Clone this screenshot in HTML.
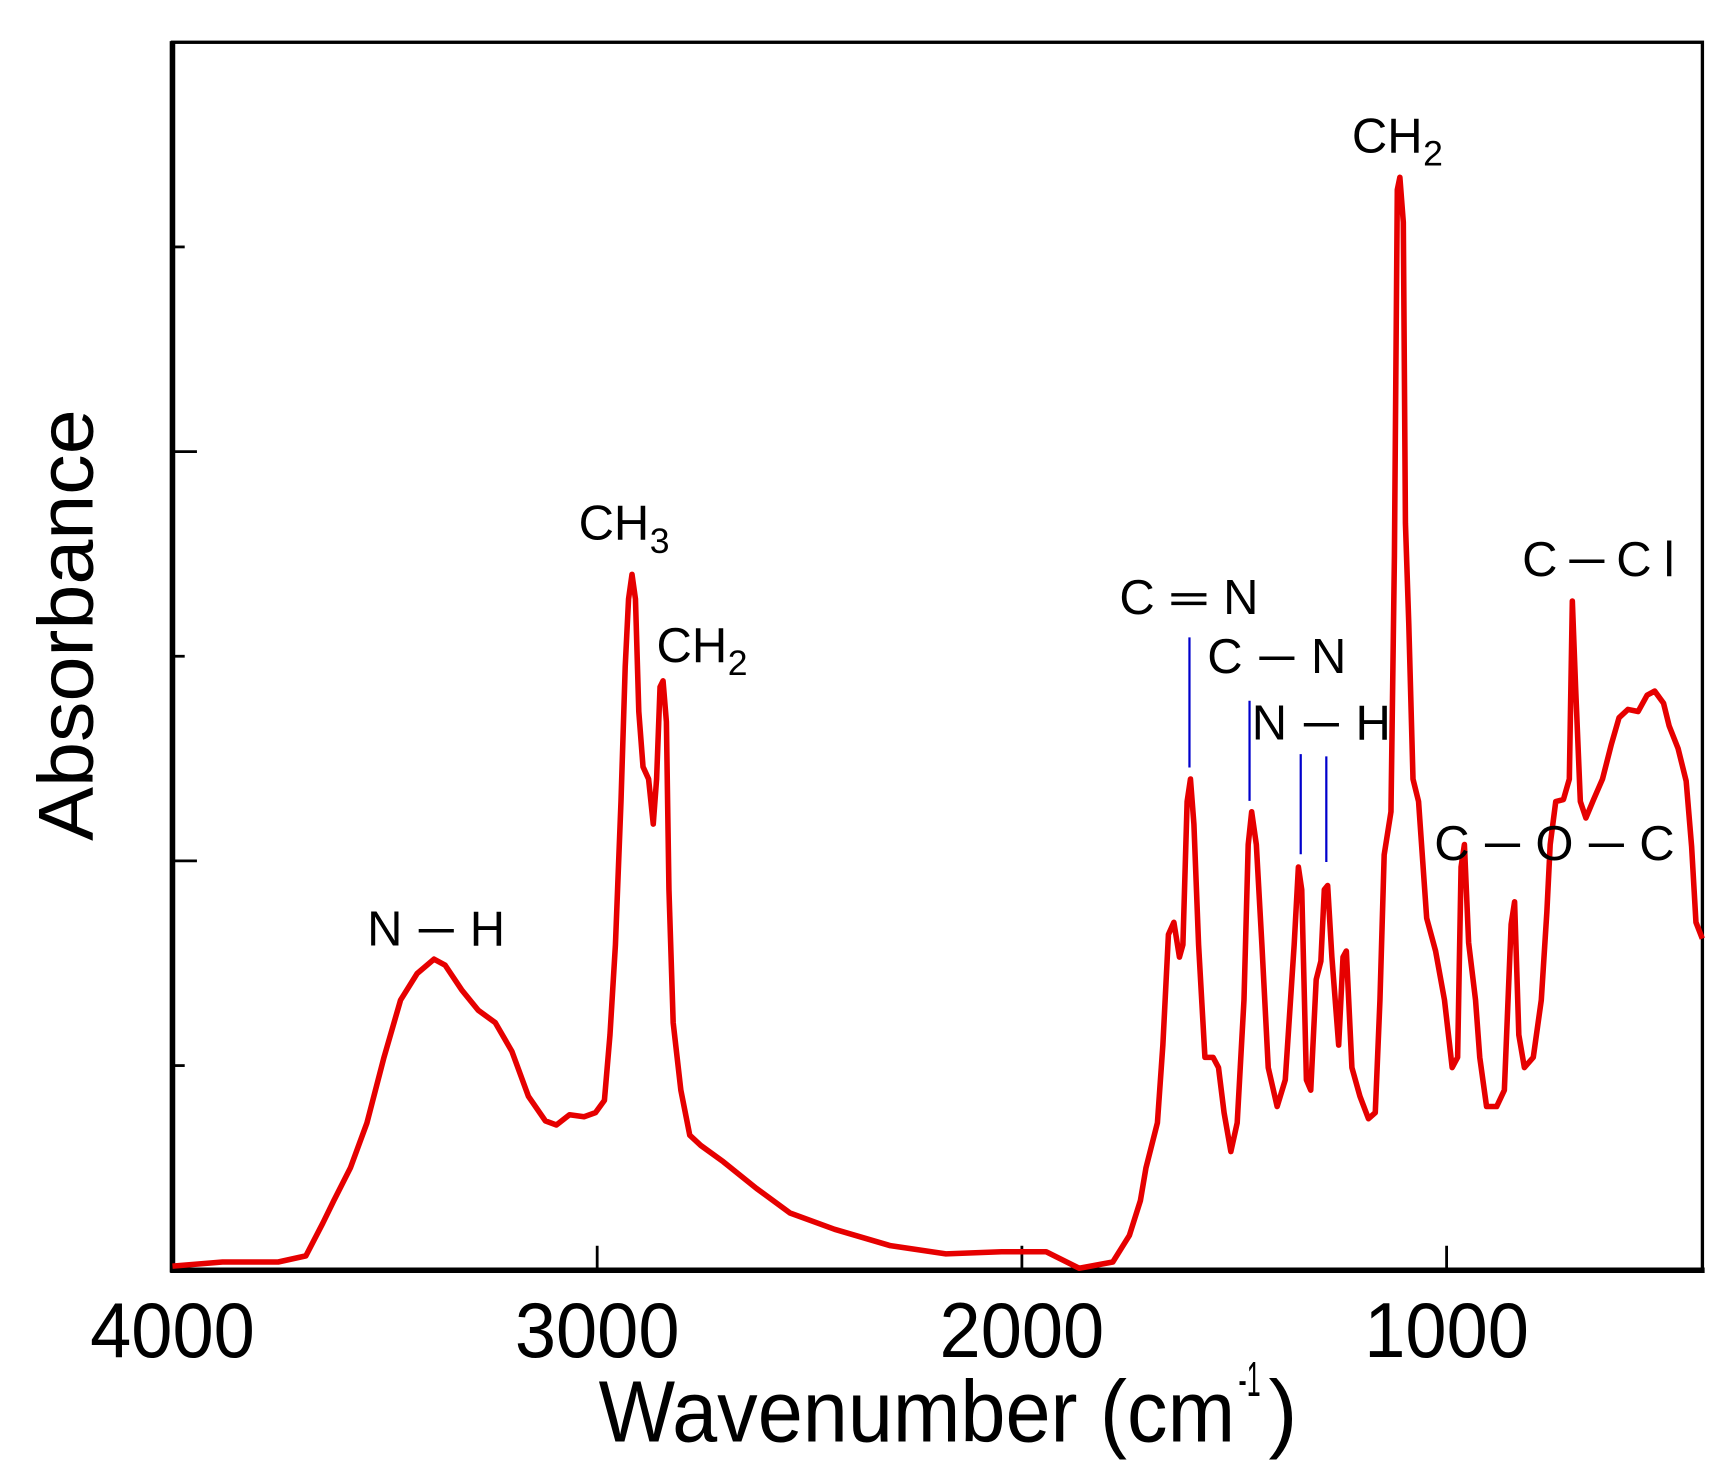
<!DOCTYPE html>
<html><head><meta charset="utf-8"><style>
html,body{margin:0;padding:0;background:#fff;}
svg{display:block;font-family:"Liberation Sans",Arial,sans-serif;}
</style></head><body>
<svg id="chart" width="1728" height="1466" viewBox="0 0 1553 1318" preserveAspectRatio="none" xmlns="http://www.w3.org/2000/svg">
<g id="axes"></g>
<path id="spectrum" fill="none" stroke="#e60000" stroke-width="5" stroke-linejoin="round"></path>
<g id="annot"></g>
<text x="538" y="1296" font-size="78" textLength="572" lengthAdjust="spacingAndGlyphs">Wavenumber (cm</text>
<text x="1113" y="1255" font-size="44" textLength="20" lengthAdjust="spacingAndGlyphs">-1</text>
<text x="1140" y="1296" font-size="78">)</text>
<text transform="translate(83,562) rotate(-90)" text-anchor="middle" font-size="70" textLength="388" lengthAdjust="spacingAndGlyphs">Absorbance</text>
</svg>
<script>
const wavenumbers=[4000,3882,3751,3686,3646,3620,3581,3542,3502,3463,3424,3384,3358,3319,3280,3240,3201,3162,3122,3096,3065,3031,3004,2983,2970,2957,2944,2934,2926,2918,2910,2902,2892,2879,2868,2860,2852,2845,2837,2831,2821,2803,2782,2756,2703,2625,2546,2441,2310,2179,2048,1943,1865,1786,1747,1721,1708,1681,1668,1655,1642,1629,1621,1611,1603,1595,1584,1569,1550,1537,1524,1508,1493,1477,1467,1459,1448,1435,1420,1399,1380,1359,1349,1341,1330,1320,1307,1296,1288,1280,1270,1254,1244,1236,1223,1204,1184,1168,1157,1147,1131,1123,1116,1110,1102,1097,1089,1079,1066,1047,1026,1005,987,974,966,958,948,932,922,906,882,864,848,840,830,817,796,777,764,756,743,725,711,704,696,685,672,654,633,612,594,573,549,528,510,489,476,455,436,423,413,398];
const absorbance=[0.02,0.04,0.04,0.07,0.23,0.34,0.50,0.72,1.04,1.32,1.45,1.52,1.49,1.37,1.27,1.21,1.07,0.85,0.73,0.71,0.76,0.75,0.77,0.83,1.15,1.59,2.29,2.95,3.28,3.40,3.28,2.73,2.46,2.40,2.18,2.40,2.85,2.88,2.68,1.86,1.21,0.88,0.66,0.61,0.53,0.40,0.28,0.20,0.12,0.08,0.09,0.09,0.01,0.04,0.17,0.34,0.50,0.72,1.10,1.64,1.70,1.53,1.59,2.29,2.40,2.18,1.59,1.04,1.04,0.99,0.77,0.58,0.72,1.32,2.08,2.24,2.08,1.59,0.99,0.80,0.93,1.59,1.97,1.86,0.93,0.88,1.42,1.51,1.86,1.88,1.53,1.10,1.53,1.56,0.99,0.85,0.74,0.77,1.32,2.03,2.24,3.49,5.28,5.34,5.12,3.65,3.16,2.40,2.29,1.72,1.56,1.32,0.99,1.04,1.97,2.08,1.60,1.32,1.04,0.80,0.80,0.88,1.69,1.80,1.15,0.99,1.04,1.32,1.75,2.08,2.29,2.30,2.40,3.27,2.84,2.29,2.21,2.30,2.40,2.57,2.70,2.74,2.73,2.81,2.83,2.77,2.66,2.55,2.39,2.07,1.70,1.62];
const xTicks=[4000,3000,2000,1000];
const yTicks=[1,2,3,4,5];
const majorY=[2,4];
const X0=155,X1=1530,Y0=1142,Y1=38;
const WMAX=4000;
function xs(w){return X0+(WMAX-w)*0.3817;}
function ys(a){return Y0-a*184;}
const NS="http://www.w3.org/2000/svg";
const axes=document.getElementById('axes');
function mk(tag,attrs,parent){const e=document.createElementNS(NS,tag);for(const k in attrs)e.setAttribute(k,attrs[k]);parent.appendChild(e);return e;}
let fr=mk('rect',{x:X0,y:Y1,width:X1-X0,height:Y0-Y1,fill:'none',stroke:'#000','stroke-width':3},axes);


let la=mk('line',{x1:X0,y1:Y1-1,x2:X0,y2:Y0+2,stroke:'#000','stroke-width':5},axes);


let ba=mk('line',{x1:X0-2,y1:Y0,x2:X1+2,y2:Y0,stroke:'#000','stroke-width':5},axes);


xTicks.forEach(v=>{
 const x=xs(v);
 let t=mk('line',{x1:x,y1:Y0,x2:x,y2:Y0-22,stroke:'#000','stroke-width':2.5},axes);
 
 
 let l=mk('text',{x:x,y:1220,'text-anchor':'middle','font-size':70,textLength:148,lengthAdjust:'spacingAndGlyphs'},axes);
 l.textContent=v;
 
 
});
yTicks.forEach(v=>{
 const y=ys(v);const len=majorY.includes(v)?22:11;
 let t=mk('line',{x1:X0,y1:y,x2:X0+len,y2:y,stroke:'#000','stroke-width':2.5},axes);
 
 
});
document.getElementById('spectrum').setAttribute('d',wavenumbers.map((w,i)=>(i?'L':'M')+xs(w).toFixed(1)+','+ys(absorbance[i]).toFixed(1)).join(''));
const an=document.getElementById('annot');
const labels=[
 ['nh-label-1',330,850,124,'N─H'],
 ['cn-double-label',1006,552,125,'C═N'],
 ['cn-label',1085,605,125,'C─N'],
 ['nh-label-2',1125,665,125,'N─H'],
 ['ccl-label',1368,518,137,'C─Cl'],
 ['coc-label',1289,773,216,'C─O─C']
];
labels.forEach(d=>{
 let t=mk('text',{x:d[1],y:d[2],'font-size':44,textLength:d[3],lengthAdjust:'spacing'},an);
 t.textContent=d[4];
 
 
});
const subs=[['ch3-label',520,485,'CH','3'],['ch2-label-1',590,595,'CH','2'],['ch2-label-2',1215,137,'CH','2']];
subs.forEach(d=>{
 let t=mk('text',{x:d[1],y:d[2],'font-size':44},an);
 t.textContent=d[3];
 
 
 let s=mk('text',{x:d[1]+64,y:d[2]+12,'font-size':32},an);
 s.textContent=d[4];
 
 
});
[[1069,573,690],[1123,630,720],[1169,678,768],[1192,680,775]].forEach(d=>{
 let l=mk('line',{x1:d[0],y1:d[1],x2:d[0],y2:d[2],stroke:'#0000cc','stroke-width':2},an);
 
 
});
</script>
</body></html>
